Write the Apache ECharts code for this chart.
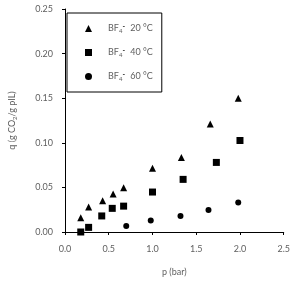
<!DOCTYPE html>
<html><head><meta charset="utf-8">
<script src="https://cdn.jsdelivr.net/npm/echarts@6/dist/echarts.min.js"></script>
<style>html,body{margin:0;padding:0;background:#fff}#c{width:293px;height:282px}</style>
</head><body><div id="c"></div>
<script>
const seriesNames = ['BF4- 20 °C', 'BF4- 40 °C', 'BF4- 60 °C'];
const p20 = [0.18, 0.27, 0.43, 0.55, 0.67, 1.00, 1.33, 1.66, 1.98];
const q20 = [0.016, 0.028, 0.035, 0.0425, 0.0496, 0.0716, 0.0836, 0.121, 0.150];
const p40 = [0.18, 0.27, 0.42, 0.54, 0.67, 1.00, 1.35, 1.73, 2.00];
const q40 = [0.000, 0.0052, 0.018, 0.0265, 0.029, 0.0448, 0.059, 0.078, 0.1026];
const p60 = [0.70, 0.98, 1.32, 1.64, 1.98];
const q60 = [0.0067, 0.013, 0.018, 0.0246, 0.0332];
const xTicks = [0, 0.5, 1.0, 1.5, 2.0, 2.5];
const yTicks = [0, 0.05, 0.10, 0.15, 0.20, 0.25];

const zip = (a, b) => a.map((v, i) => [v, b[i]]);
const font = 'Lato';
const gray = '#606060';
const chart = echarts.init(document.getElementById('c'));
chart.setOption({
  animation: false,
  textStyle: {fontFamily: font},
  grid: {left: 61, right: 8, top: 9, bottom: 50},
  legend: {
    orient: 'vertical', left: 67, top: 13, width: 95, height: 74,
    borderColor: '#000', borderWidth: 1, padding: [10, 9, 10, 18],
    itemGap: 13, itemWidth: 7, itemHeight: 7,
    data: [{name: seriesNames[0], icon: 'triangle'}, {name: seriesNames[1], icon: 'rect'}, {name: seriesNames[2], icon: 'circle'}],
    formatter: n => n.replace('BF4- ', 'BF{sub|4}{sup|-} ').replace(/(\d+ °C)/, '{n|$1}'),
    textStyle: {
      fontFamily: font, fontSize: 9, color: gray, padding: [0, 0, 0, 11],
      rich: {
        sub: {fontSize: 6, color: gray, verticalAlign: 'bottom', padding: [5, 0, 0, 0]},
        sup: {fontSize: 7, color: '#222', verticalAlign: 'top', padding: [0, 0, 4, 0], fontWeight: 'bold'},
        n: {fontSize: 9, color: gray, padding: [0, 0, 0, 3]}
      }
    }
  },
  xAxis: {
    type: 'value', min: 0, max: 2.5, interval: 0.5,
    name: 'p (bar)', nameLocation: 'middle', nameGap: 36,
    nameTextStyle: {fontFamily: font, fontSize: 9, color: gray},
    axisLine: {show: true, lineStyle: {color: '#000', width: 1}},
    axisTick: {show: true, inside: false, length: 3, lineStyle: {color: '#000'}},
    axisLabel: {fontFamily: font, fontSize: 9, color: gray, margin: 13, formatter: v => xTicks.includes(v) ? v.toFixed(1) : ''},
    splitLine: {show: false}
  },
  yAxis: {
    type: 'value', min: 0, max: 0.25, interval: 0.05,
    name: 'q (g CO{s|2}/g pIL)', nameLocation: 'middle', nameGap: 47,
    nameTextStyle: {fontFamily: font, fontSize: 9, color: gray, rich: {s: {fontSize: 6, color: gray, verticalAlign: 'bottom', padding: [5, 0, 0, 0]}}},
    axisLine: {show: true, lineStyle: {color: '#000', width: 1}},
    axisTick: {show: true, inside: false, length: 3, lineStyle: {color: '#000'}},
    axisLabel: {fontFamily: font, fontSize: 9, color: gray, margin: 12, formatter: v => v.toFixed(2)},
    splitLine: {show: false}
  },
  series: [
    {name: seriesNames[0], type: 'scatter', symbol: 'triangle', symbolSize: 7, itemStyle: {color: '#000', opacity: 1}, data: zip(p20, q20)},
    {name: seriesNames[1], type: 'scatter', symbol: 'rect', symbolSize: 7, itemStyle: {color: '#000', opacity: 1}, data: zip(p40, q40)},
    {name: seriesNames[2], type: 'scatter', symbol: 'circle', symbolSize: 6, itemStyle: {color: '#000', opacity: 1}, data: zip(p60, q60)}
  ]
});
</script></body></html>
